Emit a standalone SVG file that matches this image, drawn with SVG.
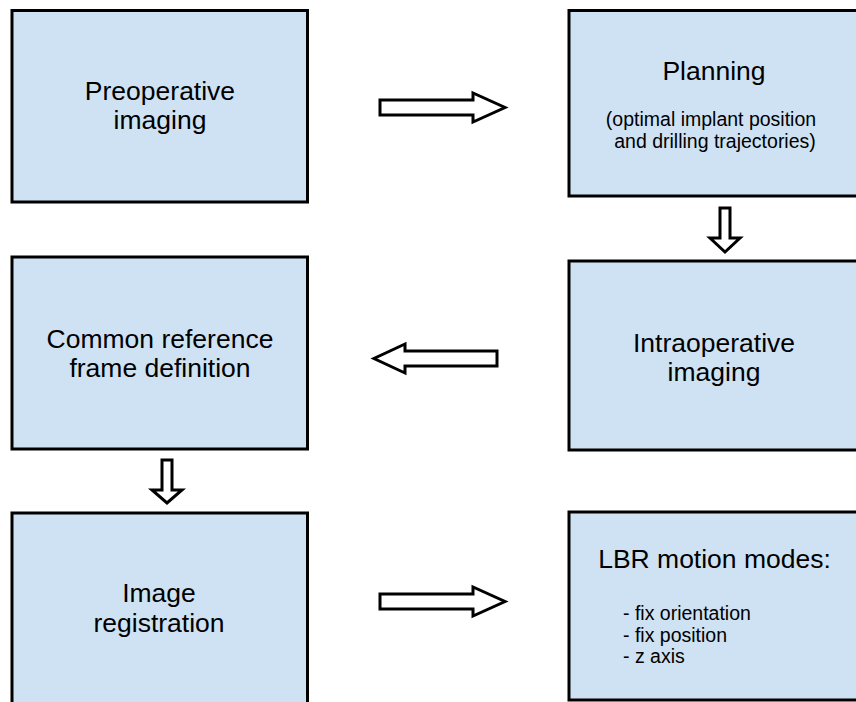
<svg xmlns="http://www.w3.org/2000/svg" width="856" height="702" viewBox="0 0 856 702">
<style>
.box{fill:#cfe2f3;stroke:#000;stroke-width:3}
.arr{fill:#fff;stroke:#000;stroke-width:3;stroke-linejoin:miter}
.t{font-family:"Liberation Sans",Arial,sans-serif;font-size:26.5px;fill:#000;text-anchor:middle}
.s{font-family:"Liberation Sans",Arial,sans-serif;font-size:19.5px;fill:#000}
</style>
<rect width="856" height="702" fill="#fff"/>
<g id="preop">
<rect class="box" x="12" y="10.5" width="295.5" height="191.5"/>
<text class="t" x="160" y="100">Preoperative</text>
<text class="t" x="160" y="129">imaging</text>
</g>
<g id="planning">
<rect class="box" x="569" y="10.5" width="300" height="185.5"/>
<text class="t" x="714" y="80">Planning</text>
<text class="s" x="711" y="126" text-anchor="middle">(optimal implant position</text>
<text class="s" x="715" y="148" text-anchor="middle">and drilling trajectories)</text>
</g>
<g id="common">
<rect class="box" x="12" y="257" width="295.5" height="192"/>
<text class="t" x="160" y="348">Common reference</text>
<text class="t" x="160" y="377">frame definition</text>
</g>
<g id="intraop">
<rect class="box" x="569" y="261" width="300" height="189"/>
<text class="t" x="714" y="352">Intraoperative</text>
<text class="t" x="714" y="381">imaging</text>
</g>
<g id="registration">
<rect class="box" x="12" y="513" width="295.5" height="200"/>
<text class="t" x="159" y="602">Image</text>
<text class="t" x="159" y="632">registration</text>
</g>
<g id="lbr">
<rect class="box" x="569" y="512" width="300" height="188"/>
<text class="t" x="714.5" y="568">LBR motion modes:</text>
<text class="s" x="623" y="620">- fix orientation</text>
<text class="s" x="623" y="642">- fix position</text>
<text class="s" x="623" y="663">- z axis</text>
</g>
<g id="connectors">
<polygon class="arr" points="380,100 473,100 473,93 505,107.5 473,122 473,115 380,115"/>
<polygon class="arr" points="720,208 730,208 730,238 740,238 725,252 710,238 720,238"/>
<polygon class="arr" points="497,351 405,351 405,344 374,358.5 405,373 405,366 497,366"/>
<polygon class="arr" points="162,460 172,460 172,490 182,490 167,503 152,490 162,490"/>
<polygon class="arr" points="380,594 473,594 473,587 505,601.5 473,616 473,609 380,609"/>
</g>
</svg>
